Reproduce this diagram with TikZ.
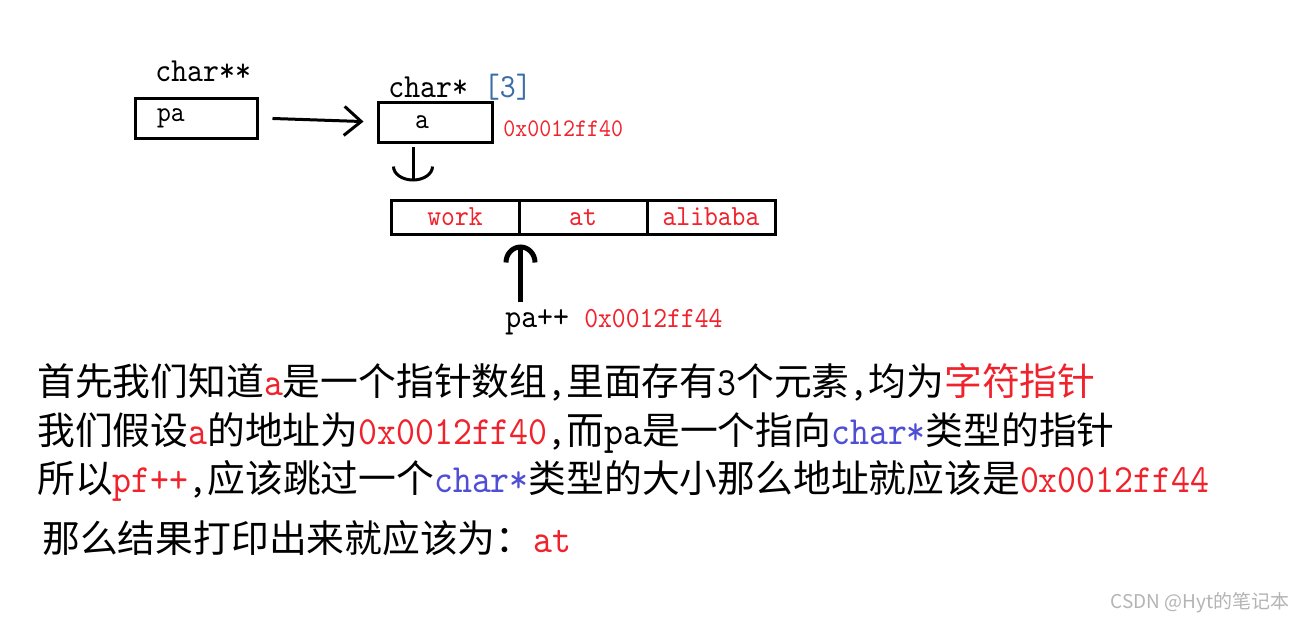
\documentclass[tikz,border=0pt]{standalone}
\usepackage{fontspec}
\usepackage{xcolor}
\setmainfont{Noto Sans CJK SC}
\newfontfamily\lt{lmmono10-regular.otf}[FakeStretch=0.9,Scale=1.06]
\usetikzlibrary{arrows.meta,calc}
\definecolor{hired}{HTML}{F0232D}
\definecolor{tyblue}{HTML}{4F4FD6}
\definecolor{idxblue}{HTML}{3C6FA8}
\definecolor{wmgray}{HTML}{B4B4B4}
\newcommand{\bodysize}{\fontsize{21.5pt}{26pt}\selectfont}
\newcommand{\typesize}{\fontsize{18.1pt}{22pt}\selectfont}
\newcommand{\cellsize}{\fontsize{15.7pt}{19pt}\selectfont}
\newcommand{\addrsize}{\fontsize{13.6pt}{16pt}\selectfont}
\newcommand{\wmsize}{\fontsize{10.8pt}{13pt}\selectfont}
\newcommand{\hl}[1]{\textcolor{hired}{\lt #1}}
\newcommand{\ty}[1]{\textcolor{tyblue}{\lt #1}}
\newcommand{\ltx}[1]{{\lt #1}}
\tikzset{
  membox/.style={draw=black,line width=0.6mm,minimum height=8mm,inner sep=0pt,font=\lt\cellsize},
  arrcell/.style={membox,minimum width=25.6mm,minimum height=6.8mm,text=hired},
  tylbl/.style={anchor=base west,inner sep=0pt,font=\lt\typesize},
  addr/.style={anchor=base west,inner sep=0pt,font=\lt\addrsize,text=hired},
  txtline/.style={anchor=base west,inner sep=0pt,font=\bodysize},
  wmark/.style={anchor=base east,inner sep=0pt,font=\wmsize,text=wmgray},
  ptr/.style={line width=0.6mm,-{Straight Barb[length=3.4mm,width=5.8mm]}},
  deref/.style={line width=0.6mm,-{Arc Barb[length=3mm,width=8.4mm]}},
  incr/.style={line width=1mm,-{Arc Barb[length=3.6mm,width=6.8mm]}},
}

\begin{document}
\begin{tikzpicture}[x=0.2mm,y=-0.2mm]
\fill[white] (0,0) rectangle (1306,621);

% ==== pointer cells ====
\node[membox,minimum width=24.4mm,text width=15.6mm,align=left] (paBox) at (196,118) {pa};
\node[membox,minimum width=22.8mm,text width=8mm,align=left] (aBox) at (435,122) {a};
\node[tylbl] (ppType) at (155,81) {char**};
\node[tylbl] (arrType) at (388,97) {char* \textcolor{idxblue}{[3]}};
\node[addr] (addrA) at (503,136) {0x0012ff40};

% ==== string array ====
\node[arrcell] (workCell) at (455,217) {work};
\node[arrcell] (atCell) at (583,217) {at};
\node[arrcell] (aliCell) at (711,217) {alibaba};

\node[tylbl] (ppLbl) at (505,327) {pa++};
\node[addr,font=\lt\cellsize] (addrB) at (584,327) {0x0012ff44};

% ==== arrows ====
\draw[ptr,shorten <=2.8mm,shorten >=2.6mm] (paBox.east) -- (aBox.west);
\coordinate (derefTop) at ($(aBox.south)+(-22,0)$);
\draw[deref,shorten <=0.6mm,shorten >=3.4mm] (derefTop) -- (derefTop |- workCell.north);
\draw[incr,shorten <=1.4mm,shorten >=1.8mm] (workCell.south east |- ppLbl.north) -- (workCell.south east);

% ==== explanation ====
\node[txtline] (lineA) at (37,395) {首先我们知道\hl{a}是一个指针数组\ltx{,}里面存有\ltx{3}个元素\ltx{,}均为\textcolor{hired}{字符指针}};
\node[txtline] (lineB) at (37,444) {我们假设\hl{a}的地址为\hl{0x0012ff40}\ltx{,}而\ltx{pa}是一个指向\ty{char*}类型的指针};
\node[txtline] (lineC) at (37,492) {所以\hl{pf++}\ltx{,}应该跳过一个\ty{char*}类型的大小那么地址就应该是\hl{0x0012ff44}};
\node[txtline] (lineD) at (42,552) {那么结果打印出来就应该为：\hl{at}};

\node[wmark] (mark) at (1290,608) {CSDN @Hyt的笔记本};
\end{tikzpicture}
\end{document}
